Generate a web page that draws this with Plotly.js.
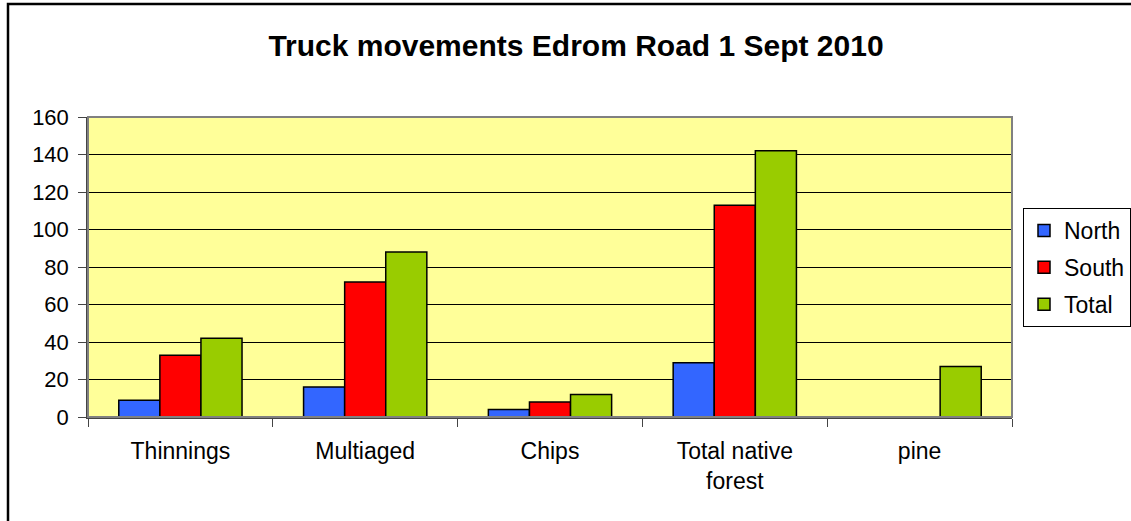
<!DOCTYPE html>
<html>
<head>
<meta charset="utf-8">
<script src="https://cdn.plot.ly/plotly-3.0.1.min.js"></script>
<style>
html,body{margin:0;padding:0;background:#fff;}
#chart{width:1131px;height:521px;}
</style>
</head>
<body>
<div id="chart"></div>
<script>
const categories = ["Thinnings", "Multiaged", "Chips", "Total native<br>forest", "pine"];
const north = [9, 16, 4, 29, null];
const south = [33, 72, 8, 113, null];
const total = [42, 88, 12, 142, 27];
const seriesNames = ["North", "South", "Total"];
const seriesColors = ["#3366FF", "#FF0000", "#99CC00"];
const yTicks = [0, 20, 40, 60, 80, 100, 120, 140, 160];

const font = "Liberation Sans, Arial, sans-serif";
const series = [north, south, total];
const traces = series.map((vals, i) => ({
  type: "bar",
  name: seriesNames[i],
  x: categories,
  y: vals,
  legendgroup: "g" + i,
  marker: {color: seriesColors[i], line: {color: "#000", width: 1.5}},
  hoverinfo: "x+y+name"
}));

// plot area in px: x 88..1012, y 117..417
const L = 88, R = 1131 - 1012, T = 117, B = 521 - 417;
const W = 924, H = 300;
const px = v => (v - L) / W;
const py = v => (417 - v) / H;

const layout = {
  width: 1131, height: 521,
  margin: {l: L, r: R, t: T, b: B, pad: 0, autoexpand: false},
  paper_bgcolor: "#ffffff",
  plot_bgcolor: "#FFFF99",
  font: {family: font, size: 22, color: "#000"},
  title: {
    text: "<b>Truck movements Edrom Road 1 Sept 2010</b>",
    font: {family: font, size: 30, color: "#000"},
    x: px(576), xref: "paper", xanchor: "center",
    y: 1 - 45 / 521, yref: "container", yanchor: "middle"
  },
  barmode: "group",
  bargap: 0.333,
  bargroupgap: 0,
  showlegend: true,
  legend: {
    xref: "container", yref: "container",
    x: 1023 / 1131, y: 1 - 208 / 521, xanchor: "left", yanchor: "top",
    bgcolor: "#fff", bordercolor: "#000", borderwidth: 1,
    font: {family: font, size: 23, color: "#000"},
    traceorder: "grouped", tracegroupgap: 4,
    itemclick: false, itemdoubleclick: false
  },
  xaxis: {
    type: "category",
    tickson: "boundaries",
    ticks: "outside", ticklen: 8, tickcolor: "#444", tickwidth: 1,
    showline: true, linecolor: "#444", linewidth: 1.5,
    showgrid: false, zeroline: false,
    tickfont: {family: font, size: 23, color: "#000"},
    ticklabelstandoff: 13,
    fixedrange: true
  },
  yaxis: {
    range: [0, 160],
    tickvals: yTicks,
    ticktext: yTicks.map(String),
    ticks: "outside", ticklen: 8, tickcolor: "#444", tickwidth: 1,
    showline: true, linecolor: "#444", linewidth: 1.5,
    showgrid: true, gridcolor: "#000", gridwidth: 1,
    zeroline: false,
    tickfont: {family: font, size: 22, color: "#000"},
    ticklabelstandoff: 5,
    fixedrange: true
  },
  shapes: [
    {type: "rect", xref: "paper", yref: "paper", x0: 0, x1: 1, y0: 0, y1: 1,
     line: {color: "#808080", width: 2}, fillcolor: "rgba(0,0,0,0)", layer: "above"},
    {type: "rect", xref: "paper", yref: "paper",
     x0: px(8), x1: px(1160), y0: py(550), y1: py(4),
     line: {color: "#000", width: 2.5}, fillcolor: "rgba(0,0,0,0)", layer: "above"}
  ]
};

Plotly.newPlot("chart", traces, layout, {displayModeBar: false, staticPlot: false});
</script>
</body>
</html>
